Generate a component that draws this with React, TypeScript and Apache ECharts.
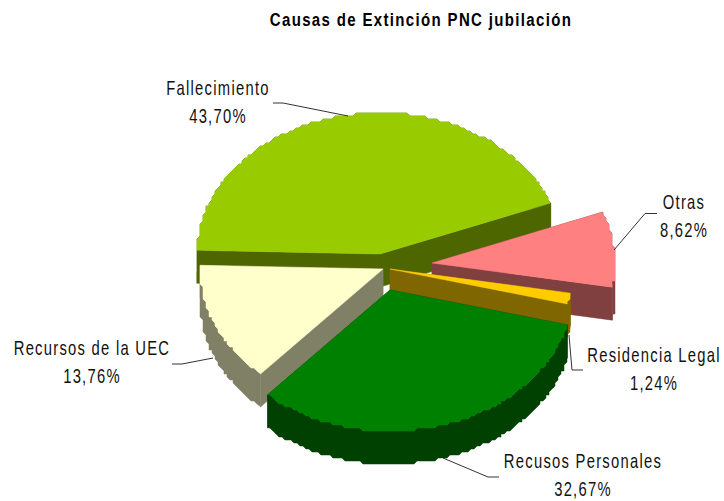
import React, { useEffect, useRef } from "react";
import * as echarts from "echarts";

const categories = ["Fallecimiento", "Otras", "Residencia Legal", "Recusos Personales", "Recursos de la UEC"];
const percents = [43.7, 8.62, 1.24, 32.67, 13.76];
const chartTitle = "Causas de Extinción PNC jubilación";

const topColors = ["#99CC00", "#FF8080", "#FFCC00", "#008000", "#FFFFCC"];
const sideColors = ["#4D6600", "#804040", "#806600", "#004000", "#808066"];
const apexes = [[380, 254], [432, 263], [390, 269], [390, 290], [383, 269]];
const paintOrder = [0, 1, 4, 2, 3];
const labelCenters = [[218, 88], [684, 202], [654, 355], [583, 461], [92, 348]];
const leaders = [
  [[273, 103], [283, 103], [348, 116]],
  [[614, 250], [645, 213.5], [657, 213.5]],
  [[569, 335], [572, 370], [583, 370]],
  [[443, 458], [488, 477], [499, 477]],
  [[213, 358], [182, 364], [172, 364]],
];

const RX = 183, RY = 141, DEPTH = 33, START = 178.5, GRID = 3;
const FAMILY = '"Liberation Sans", Arial, sans-serif';
const FONT = "20px " + FAMILY;
const SQUEEZE = 0.74;

const total = percents.reduce((a, b) => a + b, 0);
const startAngle = (i: number) => START - (percents.slice(0, i).reduce((a, b) => a + b, 0) / total) * 360;

function arcPoints(i: number) {
  const [cx, cy] = apexes[i];
  const a0 = startAngle(i);
  const a1 = a0 - (percents[i] / total) * 360;
  const pts: number[][] = [];
  const n = Math.max(2, Math.ceil(a0 - a1));
  for (let k = 0; k <= n; k++) {
    const t = ((a0 + ((a1 - a0) * k) / n) * Math.PI) / 180;
    let x = RX * Math.cos(t);
    let y = -RY * Math.sin(t);
    if (k > 0 && k < n) {
      x = Math.round(x / GRID) * GRID;
      y = Math.round(y / GRID) * GRID;
    }
    pts.push([cx + x, cy + y]);
  }
  return pts;
}

const down = (p: number[]) => [p[0], p[1] + DEPTH];

function renderItem(params: any) {
  const i = params.dataIndex;
  const z = paintOrder.indexOf(i) * 3;
  const apex = apexes[i];
  const arc = arcPoints(i);
  const first = arc[0];
  const last = arc[arc.length - 1];
  const side = sideColors[i];
  const poly = (points: number[][], fill: string, z2: number) => ({
    type: "polygon",
    z2,
    shape: { points },
    style: { fill, stroke: fill, lineWidth: 0.5 },
  });
  const children: any[] = [
    poly([...arc, ...arc.slice().reverse().map(down)], side, z),
    poly([apex, first, down(first), down(apex)], side, z),
    poly([apex, last, down(last), down(apex)], side, z),
    poly([apex, ...arc], topColors[i], z + 1),
    {
      type: "polyline",
      z2: 50,
      shape: { points: leaders[i] },
      style: { fill: "none", stroke: "#333333", lineWidth: 1 },
    },
  ];
  const [lx, ly] = labelCenters[i];
  [categories[i], percents[i].toFixed(2).replace(".", ",") + "%"].forEach((text, j) => {
    children.push({
      type: "text",
      z2: 60,
      x: lx,
      y: ly + j * 28,
      scaleX: SQUEEZE,
      style: { x: 0, y: 0, text, fill: "#111111", font: FONT, textAlign: "center", textVerticalAlign: "middle" },
    });
  });
  return { type: "group", children };
}

export default function App() {
  const ref = useRef<HTMLDivElement>(null);
  useEffect(() => {
    document.body.style.margin = "0";
    const chart = echarts.init(ref.current!, null, { renderer: "svg" });
    chart.setOption({
      animation: false,
      backgroundColor: "#ffffff",
      graphic: [
        {
          type: "text",
          x: 421,
          y: 20,
          scaleX: 0.79,
          style: { x: 0, y: 0, text: chartTitle, fill: "#000000", font: "bold 19px " + FAMILY, textAlign: "center", textVerticalAlign: "middle" },
        },
      ],
      series: [
        {
          type: "custom",
          coordinateSystem: "none",
          silent: true,
          renderItem,
          data: percents.map((v, i) => ({ name: categories[i], value: [v] })),
        },
      ],
    });
    return () => chart.dispose();
  }, []);
  return <div ref={ref} style={{ width: 724, height: 501, letterSpacing: "1.7px" }} />;
}
